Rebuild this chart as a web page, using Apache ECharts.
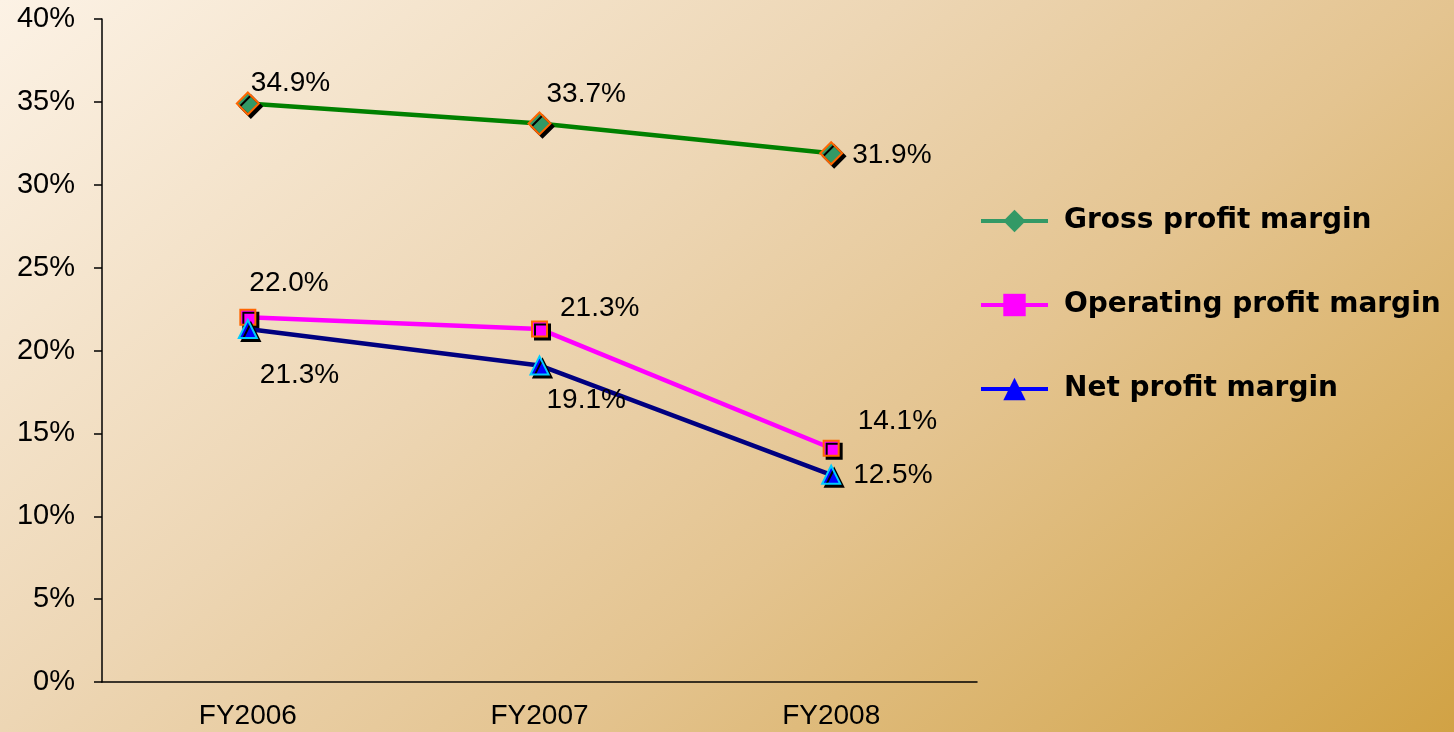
<!DOCTYPE html>
<html>
<head>
<meta charset="utf-8">
<script src="https://cdn.jsdelivr.net/npm/echarts@6/dist/echarts.min.js"></script>
<style>
  html, body { margin: 0; padding: 0; }
  #chart { width: 1454px; height: 732px; }
</style>
</head>
<body>
<div id="chart"></div>
<script>
// Fiscal years on the category axis
const categories = ['FY2006', 'FY2007', 'FY2008'];

// Margins in percent
const grossMargin = [34.9, 33.7, 31.9];
const operatingMargin = [22.0, 21.3, 14.1];
const netMargin = [21.3, 19.1, 12.5];

// Series names shown in the legend
const seriesNames = ['Gross profit margin', 'Operating profit margin', 'Net profit margin'];

// Label offsets (px) for each point, so labels sit clear of the lines
const grossLabelOffsets = [[-9, -20], [-5, -29], [9, 2]];
const operatingLabelOffsets = [[-7, -34], [12, -21], [18, -27]];
const netLabelOffsets = [[2, 46], [-3, 35], [12, 0]];

const FONT = '"Liberation Sans", Arial, sans-serif';

function pointData(values, offsets) {
  return values.map((v, i) => ({
    value: v,
    label: { offset: offsets[i] }
  }));
}

const labelBase = {
  show: true,
  position: 'right',
  distance: 0,
  color: '#000',
  fontFamily: FONT,
  fontSize: 28,
  formatter: p => p.value.toFixed(1) + '%'
};

const chart = echarts.init(document.getElementById('chart'));

chart.setOption({
  animation: false,
  backgroundColor: {
    type: 'linear',
    x: 0, y: 0, x2: 0.64, y2: 1.58,
    colorStops: [
      { offset: 0, color: '#FCF2E5' },
      { offset: 0.383, color: '#EDD6B4' },
      { offset: 0.617, color: '#E4C490' },
      { offset: 1, color: '#D1A244' }
    ]
  },
  grid: { left: 102, right: 477, top: 19, bottom: 50 },
  legend: {
    orient: 'vertical',
    left: 979,
    top: 207,
    padding: 0,
    itemWidth: 67,
    itemHeight: 28,
    itemGap: 56,
    textStyle: {
      fontFamily: '"DejaVu Sans", Verdana, sans-serif',
      fontWeight: 'bold',
      fontSize: 28,
      color: '#000',
      padding: [0, 0, 0, 11]
    },
    data: [
      { name: seriesNames[0], itemStyle: { color: '#339966', borderWidth: 0, shadowColor: 'transparent' }, lineStyle: { color: '#339966', width: 4 } },
      { name: seriesNames[1], itemStyle: { color: '#FF00FF', borderWidth: 0, shadowColor: 'transparent' }, lineStyle: { color: '#FF00FF', width: 4 } },
      { name: seriesNames[2], itemStyle: { color: '#0000FF', borderWidth: 0, shadowColor: 'transparent' }, lineStyle: { color: '#0000FF', width: 4 } }
    ]
  },
  xAxis: {
    type: 'category',
    data: categories,
    axisLine: { lineStyle: { color: '#000', width: 1.5 } },
    axisTick: { length: 9, lineStyle: { color: '#000', width: 1.5 } },
    axisLabel: { color: '#000', fontFamily: FONT, fontSize: 28, margin: 20 }
  },
  yAxis: {
    type: 'value',
    min: 0,
    max: 40,
    interval: 5,
    axisLine: { show: true, lineStyle: { color: '#000', width: 1.5 } },
    axisTick: { show: true, length: 8, lineStyle: { color: '#000', width: 1.5 } },
    splitLine: { show: false },
    axisLabel: { color: '#000', fontFamily: FONT, fontSize: 29, margin: 27, formatter: '{value}%' }
  },
  series: [
    {
      name: seriesNames[0],
      type: 'line',
      data: pointData(grossMargin, grossLabelOffsets),
      symbol: 'diamond',
      symbolSize: 22,
      z: 3,
      lineStyle: { color: '#008000', width: 4.5 },
      itemStyle: {
        color: '#339966', borderColor: '#FF6600', borderWidth: 2,
        shadowColor: '#000', shadowOffsetX: 3, shadowOffsetY: 3, shadowBlur: 0
      },
      label: labelBase
    },
    {
      name: seriesNames[1],
      type: 'line',
      data: pointData(operatingMargin, operatingLabelOffsets),
      symbol: 'rect',
      symbolSize: 15,
      z: 3,
      lineStyle: { color: '#FF00FF', width: 4.5 },
      itemStyle: {
        color: '#FF00FF', borderColor: '#FF6600', borderWidth: 2,
        shadowColor: '#000', shadowOffsetX: 3, shadowOffsetY: 3, shadowBlur: 0
      },
      label: labelBase
    },
    {
      name: seriesNames[2],
      type: 'line',
      data: pointData(netMargin, netLabelOffsets),
      symbol: 'triangle',
      symbolSize: 18,
      z: 4,
      lineStyle: { color: '#000080', width: 4.5 },
      itemStyle: {
        color: '#0000FF', borderColor: '#00CCFF', borderWidth: 2,
        shadowColor: '#000', shadowOffsetX: 3, shadowOffsetY: 3, shadowBlur: 0
      },
      label: labelBase
    }
  ]
});
</script>
</body>
</html>
